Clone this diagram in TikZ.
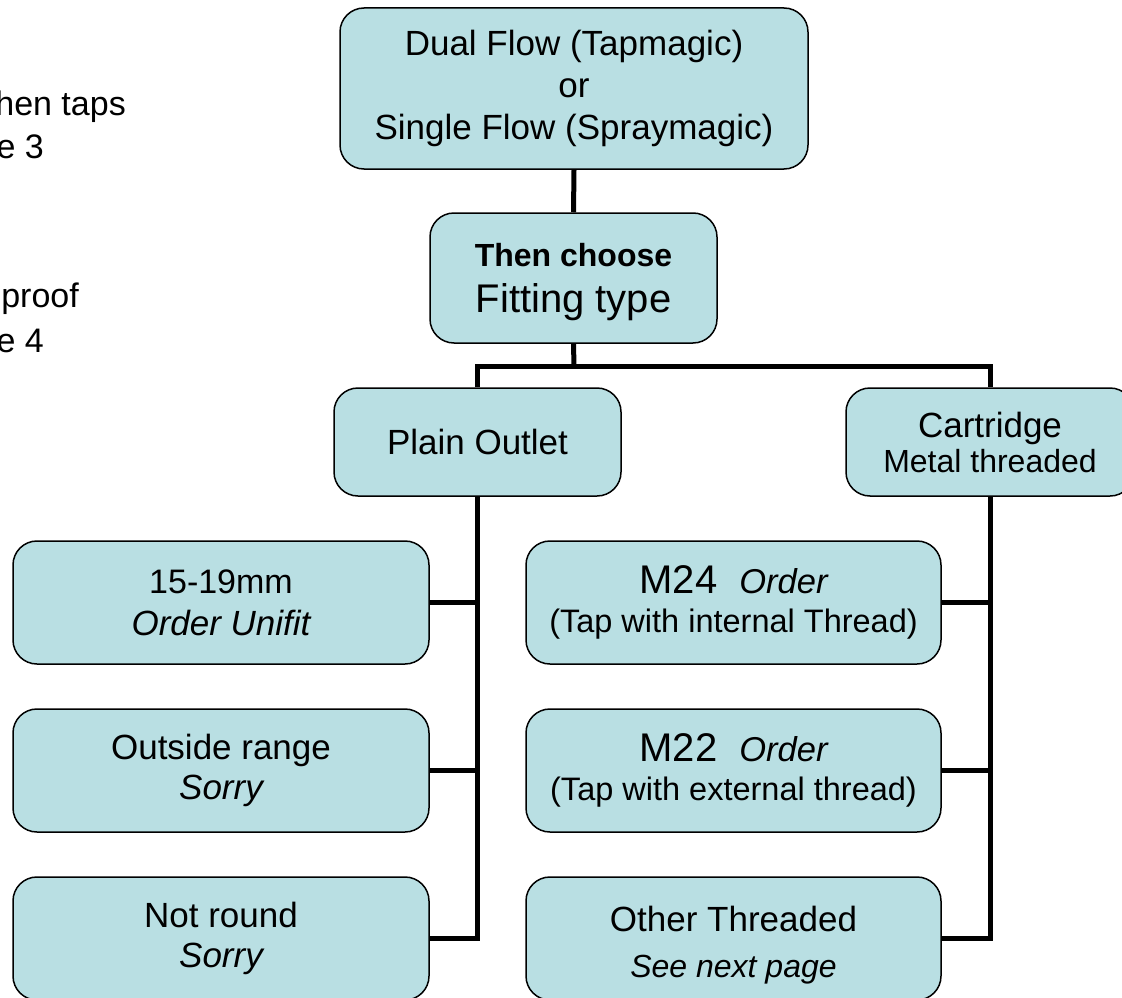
\documentclass[tikz,border=0pt]{standalone}
\usepackage{fontspec}
\setmainfont{Liberation Sans}
\newcommand{\lowr}[2]{\raisebox{-#1}[\height][\depth]{#2}}
\begin{document}
\begin{tikzpicture}[x=1pt,y=-1pt,
  box/.style={draw=black,line width=1.5pt,fill=boxfill,rounded corners=24pt,
    align=center,inner sep=0pt,font=\fontsize{35}{42}\selectfont},
  side/.style={anchor=base east,inner sep=0pt,font=\fontsize{34}{40}\selectfont},
  conn/.style={line width=5pt,draw=black,line join=miter}]
\definecolor{boxfill}{HTML}{B9DFE3}
\useasboundingbox (0,0) rectangle (1122,998);
% cut-off side text
\node[side] (t1) at (126,115) {hen taps};
\node[side] (t2) at (44,158) {e 3};
\node[side] (t3) at (79,307) {proof};
\node[side] (t4) at (44,352) {e 4};
% boxes
\node[box,minimum width=468pt,minimum height=161pt] (top) at (574,88.5)
  {Dual Flow (Tapmagic)\\or\\Single Flow (Spraymagic)};
\node[box,minimum width=287pt,minimum height=130pt] (choose) at (573.5,278)
  {\lowr{4pt}{\fontsize{32}{36}\selectfont\bfseries Then choose}\\[4pt]\lowr{4pt}{\fontsize{40}{44}\selectfont Fitting type}};
\node[box,minimum width=287pt,minimum height=108pt] (plain) at (477.5,442) {Plain Outlet};
\node[box,minimum width=288pt,minimum height=108pt] (cart) at (990,442)
  {Cartridge\\[-7pt]{\fontsize{32}{38}\selectfont Metal threaded}};
\node[box,minimum width=416pt,minimum height=123pt] (l1) at (221,602.5)
  {{\fontsize{34}{40}\selectfont 15-19mm}\\[0pt]\itshape Order Unifit};
\node[box,minimum width=416pt,minimum height=123pt] (l2) at (221,770.5)
  {Outside range\\[-2pt]\itshape Sorry};
\node[box,minimum width=416pt,minimum height=123pt] (l3) at (221,938.5)
  {Not round\\[-2pt]\itshape Sorry};
\node[box,minimum width=415pt,minimum height=123pt] (r1) at (733.5,602.5)
  {{\fontsize{40}{44}\selectfont M24}\hspace{22pt}{\fontsize{34.5}{40}\selectfont\itshape Order}\\[-3pt]{\fontsize{32.5}{38}\selectfont (Tap with internal Thread)}};
\node[box,minimum width=415pt,minimum height=123pt] (r2) at (733.5,770.5)
  {{\fontsize{40}{44}\selectfont M22}\hspace{22pt}{\fontsize{34.5}{40}\selectfont\itshape Order}\\[-3pt]{\fontsize{32.5}{38}\selectfont (Tap with external thread)}};
\node[box,minimum width=415pt,minimum height=123pt] (r3) at (733.5,938.5)
  {\lowr{7pt}{\fontsize{35}{40}\selectfont Other Threaded}\\[4pt]\lowr{7pt}{\fontsize{32}{38}\selectfont\itshape See next page}};
% connectors
\coordinate (bus) at (574,366);
\draw[conn] (top.south) -- (choose.north);
\draw[conn] (choose.south) -- (bus);
\draw[conn] (plain.north) |- (bus) -| (cart.north);
\draw[conn] (plain.south) |- (l3.east);
\draw[conn] (l1.east) -- (l1.east -| plain.south);
\draw[conn] (l2.east) -- (l2.east -| plain.south);
\draw[conn] (cart.south) |- (r3.east);
\draw[conn] (r1.east) -- (r1.east -| cart.south);
\draw[conn] (r2.east) -- (r2.east -| cart.south);
\end{tikzpicture}
\end{document}
